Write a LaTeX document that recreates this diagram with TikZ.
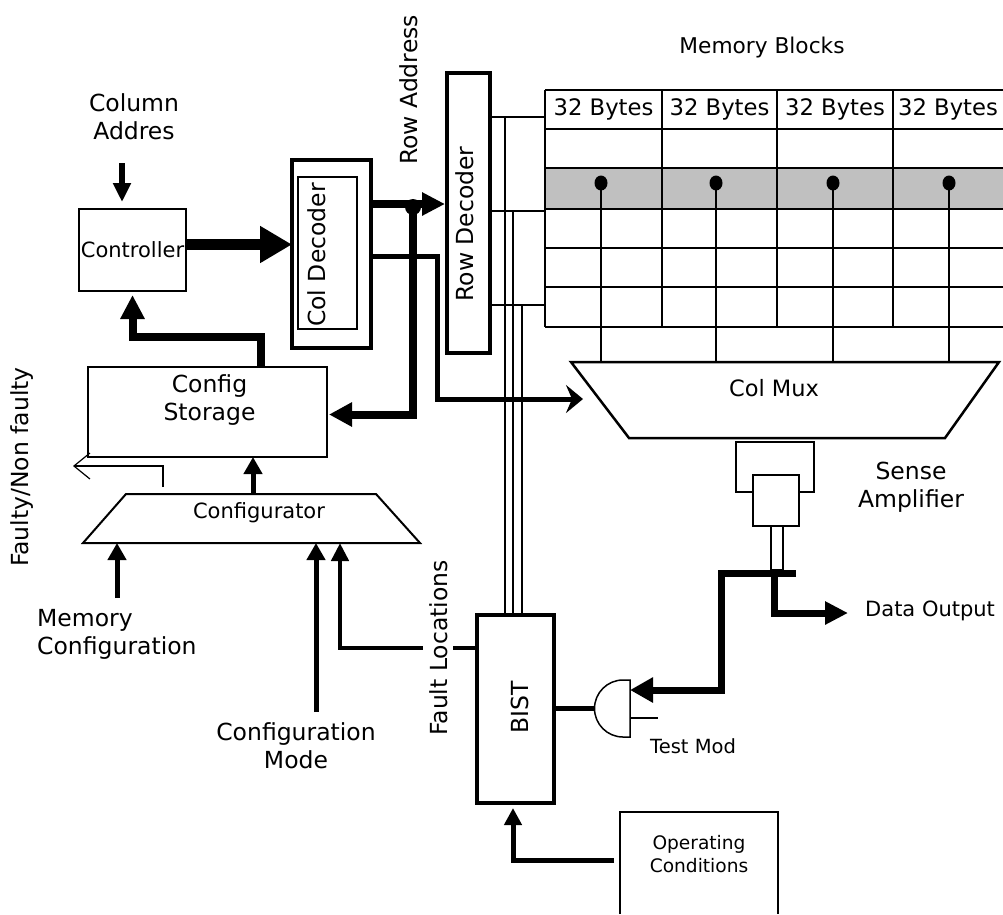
\documentclass[tikz,border=0pt]{standalone}
\usepackage{fontspec}
\setmainfont{DejaVu Sans}
\usetikzlibrary{arrows.meta}
\definecolor{band}{HTML}{C0C0C0}
\begin{document}
\begin{tikzpicture}[x=1pt,y=-1pt,
  T/.style={font=\fontsize{23.5}{28}\selectfont, inner sep=0pt},
  Ts/.style={font=\fontsize{21}{25}\selectfont, inner sep=0pt},
  Tx/.style={font=\fontsize{18.6}{23}\selectfont, inner sep=0pt},
  boxn/.style={draw, inner sep=0pt, outer sep=0pt},
  thinw/.style={line width=1.5pt},
  grid/.style={line width=2pt}
]
\fill[white] (0,0) rectangle (1003,914);
\useasboundingbox (0,0) rectangle (1003,914);

% ---------- memory array ----------
\fill[band] (545,168) rectangle (1003,209);
\foreach \y in {90,129,168,209,248,287,327} \draw[grid] (545,\y) -- (1003,\y);
\foreach \x in {545,662,777,893} \draw[grid] (\x,90) -- (\x,327);
\node[T, font=\fontsize{22.7}{27}\selectfont] (mba) at (603.5,109) {32 Bytes};
\node[T, font=\fontsize{22.7}{27}\selectfont] (mbb) at (719.5,109) {32 Bytes};
\node[T, font=\fontsize{22.7}{27}\selectfont] (mbc) at (835,109) {32 Bytes};
\node[T, font=\fontsize{22.7}{27}\selectfont] (mbd) at (948,109) {32 Bytes};
\node[T, font=\fontsize{21.7}{26}\selectfont, anchor=base] (mbt) at (762,53) {Memory Blocks};

% ---------- col mux ----------
\draw[line width=2.5pt] (571,362) -- (999,362) -- (945,438) -- (629,438) -- cycle;
\coordinate (cmtop) at (0,362);
\node[T, font=\fontsize{22.5}{26}\selectfont, anchor=base] (cm) at (774,396) {Col Mux};
\foreach \x in {601,716,833,949} {
  \draw[thinw] (\x,183) -- (\x,0 |- cmtop);
  \fill (\x,183) ellipse [x radius=6.5pt, y radius=7.5pt];
}

% ---------- sense amplifier ----------
\draw[thinw] (753,492) -- (736,492) -- (736,442) -- (814,442) -- (814,492) -- (799,492);
\node[boxn, line width=2pt, minimum width=46pt, minimum height=51pt] (sa) at (776,500.5) {};
\draw[thinw] (771,0 |- sa.south) rectangle (783,570);
\node[T, align=center, anchor=north] (sat) at (911,462) {Sense\\Amplifier};

% ---------- controller / decoders ----------
\node[boxn, line width=2.5pt, minimum width=107pt, minimum height=82pt, Ts] (ctrl) at (132.5,250) {Controller};
\node[T, align=center, anchor=north] (cat) at (134,93) {Column\\Addres};
\node[boxn, line width=3.3pt, minimum width=79pt, minimum height=188pt] (coldec) at (331.5,254) {};
\node[boxn, line width=1.5pt, minimum width=59pt, minimum height=152pt] (coldecin) at (327.5,253) {};
\node[T, rotate=90, anchor=base] (cdt) at (325,255) {Col Decoder};
\node[boxn, line width=3.5pt, minimum width=43pt, minimum height=280pt] (rowdec) at (468.5,213) {};
\node[T, rotate=90, anchor=base] (rdt) at (473,224) {Row Decoder};
\node[T, rotate=90, anchor=base] (rat) at (417,90) {Row Address};

% ---------- config storage / configurator ----------
\node[boxn, line width=2.5pt, minimum width=239pt, minimum height=90pt] (cs) at (207.5,412) {};
\node[T, align=center, anchor=north] (cst) at (209.5,374) {Config\\Storage};
\draw[line width=2pt] (126,494) -- (376,494) -- (420,543) -- (83,543) -- cycle;
\coordinate (cfgtop) at (0,494);
\coordinate (cfgbot) at (0,543);
\node[Ts, anchor=base] (cfgt) at (259,518) {Configurator};
\node[T, rotate=90, anchor=base] (fnft) at (28,467) {Faulty/Non faulty};
\node[T, align=left, anchor=north west] (mct) at (37,609) {Memory\\Configuration};
\node[T, align=center, anchor=north] (cmt) at (296,722) {Configuration\\Mode};

% ---------- BIST ----------
\node[boxn, line width=3.5pt, minimum width=77pt, minimum height=188pt] (bist) at (515.5,709) {};
\node[T, rotate=90, anchor=base] (bistt) at (528,707) {BIST};

% ---------- operating conditions ----------
\draw[line width=2.5pt] (620,914) -- (620,812) -- (778,812) -- (778,914);
\coordinate (opc) at (620,860);
\node[Tx, align=center, anchor=north] (opct) at (699,835) {Operating\\Conditions};

% ---------- AND gate ----------
\draw[thinw] (630,680) -- (623,680) .. controls (607.3,680) and (594.5,692.8) .. (594.5,708.5)
  .. controls (594.5,724.2) and (607.3,737) .. (623,737) -- (630,737) -- cycle;
\coordinate (andout) at (594.5,708.5);
\coordinate (andin) at (630,690);
\draw[thinw] (630,718) -- (658,718);
\node[Ts, font=\fontsize{19.5}{24}\selectfont, anchor=base west] (tmt) at (650,753) {Test Mod};

% ---------- connectors ----------
% column address
\draw[line width=6pt, -{Triangle[length=19pt,width=17pt]}, shorten >=7pt] (122,163) -- (122,0 |- ctrl.north);
% controller -> col decoder
\draw[line width=11pt, -{Triangle[length=32pt,width=35pt]}] (ctrl.east |- 0,244.5) -- (coldec.west |- 0,244.5);
% row address bus
\draw[line width=8pt, -{Triangle[length=23pt,width=22pt]}, shorten >=2pt] (coldec.east |- 0,204) -- (rowdec.west |- 0,204);
\fill (413,207) circle [radius=8pt];
\draw[line width=8pt, -{Triangle[length=23pt,width=23pt]}, shorten >=2pt] (413,204) |- (cs.east |- 0,414.5);
% col decoder -> col mux
\coordinate (cmin) at (583,399);
\draw[line width=5pt, -{Stealth[length=17pt,width=28pt,inset=6pt]}] (coldec.east |- 0,256.5) -| (437,399) -- (cmin);
% config storage -> controller
\draw[line width=8pt, -{Triangle[length=24pt,width=23pt]}, shorten >=4pt] (261,0 |- cs.north) -- (261,337) -| (ctrl.south);
% configurator -> config storage
\draw[line width=5pt, -{Triangle[length=17pt,width=18pt]}] (253,0 |- cfgtop) -- (253,0 |- cs.south);
% faulty / non faulty
\coordinate (fnf) at (73,466);
\draw[line width=1.2pt, -{Straight Barb[length=16pt,width=26pt]}] (163,487) |- (fnf);
% memory configuration
\draw[line width=5pt, -{Triangle[length=17pt,width=18pt]}] (117,598) -- (117,0 |- cfgbot);
% configuration mode
\draw[line width=5pt, -{Triangle[length=17pt,width=18pt]}] (316,712) -- (316,0 |- cfgbot);
% fault locations
\draw[line width=4.5pt, -{Triangle[length=18pt,width=17pt]}] (bist.west |- 0,648) -| (340,0 |- cfgbot);
\node[T, rotate=90, anchor=base, fill=white, inner xsep=0pt, inner ysep=6pt] (flt) at (447,648) {Fault Locations};
% word lines to BIST
\draw[thinw] (rowdec.east |- 0,117) -- (545,117);
\draw[thinw] (rowdec.east |- 0,211) -- (545,211);
\draw[thinw] (rowdec.east |- 0,305) -- (545,305);
\draw[thinw] (505,117) -- (505,0 |- bist.north);
\draw[thinw] (513,211) -- (513,0 |- bist.north);
\draw[thinw] (522,305) -- (522,0 |- bist.north);
% operating conditions -> BIST
\draw[line width=5pt, -{Triangle[length=17pt,width=17pt]}, shorten >=5pt] ([xshift=-6pt]opc) -| (513,0 |- bist.south);
% AND -> BIST
\draw[line width=5pt] (andout) -- (bist.east |- andout);
% data bus
\draw[line width=7pt, -{Triangle[length=23pt,width=24pt]}] (796,573) -- (721,573) -- (721,690) -- (andin);
\coordinate (dout) at (848,613);
\draw[line width=7pt, -{Triangle[length=23pt,width=22pt]}] (774,573) |- (dout);
\node[Ts, anchor=base west] (dot) at (865,616) {Data Output};
\end{tikzpicture}
\end{document}
